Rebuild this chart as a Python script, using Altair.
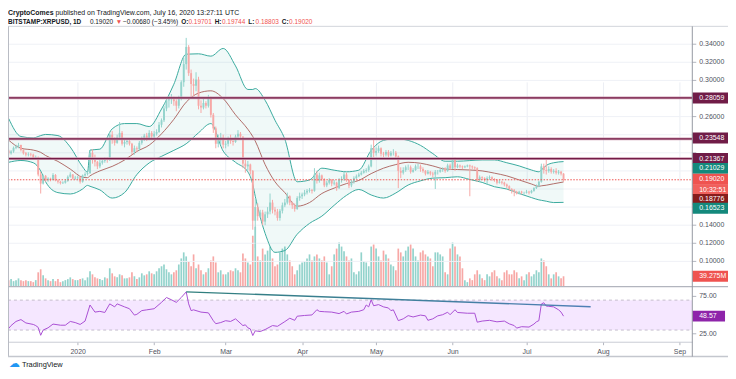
import altair as alt
import numpy as np
import pandas as pd

FONT = "Liberation Sans"
DARK = "#131722"
UP, DOWN = "#26a69a", "#ef5350"
W, H = 690, 318
MAIN_H = 262
RSI_TOP, RSI_BOT = 263, 318

# ---------------- daily candles, BITSTAMP:XRPUSD, 2019-12-04 .. 2020-07-16 ----------------
first_open = 0.2225
close_dec = [0.2195,0.2215,0.2255,0.2270,0.2285, 0.2230,0.2195,0.2180,0.2185,0.2180, 0.2140,0.2150,0.1960,0.1860,0.1945,
             0.1895,0.1915,0.1900,0.1955,0.1895, 0.1880,0.1865,0.1870,0.1890,0.1935, 0.1960,0.1915,0.1925]
high_dec = [0.2240,0.2230,0.2270,0.2290,0.2310, 0.2290,0.2240,0.2210,0.2205,0.2200, 0.2190,0.2170,0.2160,0.1990,0.1960,
            0.1955,0.1930,0.1925,0.1975,0.1965, 0.1905,0.1890,0.1885,0.1905,0.1950, 0.1985,0.1965,0.1945]
low_dec = [0.2170,0.2180,0.2200,0.2240,0.2250, 0.2215,0.2180,0.2160,0.2160,0.2160, 0.2130,0.2125,0.1940,0.1750,0.1850,
           0.1880,0.1880,0.1885,0.1895,0.1885, 0.1860,0.1850,0.1855,0.1860,0.1880, 0.1925,0.1905,0.1900]

close_jan = [0.1930,0.1880,0.1950,0.1965,0.1975, 0.2200,0.2130,0.2100,0.2050,0.2090, 0.2110,0.2130,0.2120,0.2400,0.2350,
             0.2310,0.2370,0.2420,0.2300,0.2320, 0.2330,0.2300,0.2210,0.2250,0.2240, 0.2310,0.2360,0.2390,0.2360,0.2420, 0.2380]
high_jan = [0.1945,0.1940,0.1960,0.1985,0.1990, 0.2230,0.2240,0.2180,0.2110,0.2120, 0.2140,0.2150,0.2150,0.2430,0.2440,
            0.2370,0.2400,0.2540,0.2440,0.2350, 0.2350,0.2340,0.2310,0.2280,0.2270, 0.2330,0.2380,0.2410,0.2420,0.2450, 0.2440]
low_jan = [0.1905,0.1860,0.1870,0.1935,0.1950, 0.1970,0.2080,0.2050,0.2020,0.2030, 0.2070,0.2090,0.2090,0.2110,0.2300,
           0.2280,0.2300,0.2350,0.2280,0.2260, 0.2290,0.2280,0.2180,0.2180,0.2210, 0.2220,0.2290,0.2330,0.2330,0.2340, 0.2360]

close_feb = [0.2410,0.2430,0.2510,0.2560,0.2690, 0.2780,0.2790,0.2790,0.2770,0.2720, 0.2800,0.2980,0.3180,0.3370,0.3080,
             0.2960,0.2940,0.3010,0.2720,0.2700, 0.2750,0.2720,0.2800,0.2620,0.2470, 0.2300,0.2340,0.2370,0.2290]
high_feb = [0.2440,0.2460,0.2540,0.2580,0.2720, 0.2810,0.2830,0.2850,0.2820,0.2790, 0.2830,0.3000,0.3250,0.3470,0.3390,
            0.3120,0.3020,0.3090,0.3040,0.2780, 0.2800,0.2770,0.2840,0.2820,0.2640, 0.2490,0.2400,0.2420,0.2400]
low_feb = [0.2360,0.2390,0.2420,0.2480,0.2540, 0.2660,0.2700,0.2740,0.2720,0.2660, 0.2690,0.2780,0.2930,0.3120,0.3050,
           0.2800,0.2820,0.2880,0.2680,0.2640, 0.2680,0.2690,0.2700,0.2590,0.2420, 0.2250,0.2260,0.2290,0.2250]

close_mar = [0.2300,0.2360,0.2330,0.2320,0.2380, 0.2410,0.2380,0.2080,0.2050,0.2070, 0.2000,0.1450,0.1600,0.1500,0.1540,
             0.1440,0.1520,0.1550,0.1650,0.1570, 0.1550,0.1480,0.1560,0.1620,0.1650, 0.1720,0.1650,0.1620,0.1580,0.1700, 0.1720]
high_mar = [0.2330,0.2380,0.2400,0.2360,0.2400, 0.2450,0.2430,0.2380,0.2120,0.2110, 0.2080,0.2010,0.1700,0.1640,0.1570,
            0.1570,0.1550,0.1600,0.1750,0.1680, 0.1600,0.1580,0.1580,0.1650,0.1690, 0.1760,0.1730,0.1660,0.1640,0.1720, 0.1760]
low_mar = [0.2250,0.2270,0.2300,0.2280,0.2310, 0.2360,0.2350,0.2030,0.1980,0.2010, 0.1960,0.1350,0.1150,0.1450,0.1480,
           0.1400,0.1400,0.1480,0.1520,0.1530, 0.1510,0.1450,0.1450,0.1530,0.1600, 0.1630,0.1620,0.1580,0.1550,0.1570, 0.1670]

close_apr = [0.1740,0.1760,0.1780,0.1790,0.1780, 0.1960,0.1890,0.1950,0.1910,0.1840, 0.1870,0.1900,0.1860,0.1870,0.1810,
             0.1900,0.1910,0.1960,0.1900,0.1840, 0.1880,0.1920,0.1940,0.1960,0.1980, 0.2000,0.2010,0.2050,0.2250,0.2200]
high_apr = [0.1760,0.1790,0.1800,0.1810,0.1800, 0.2030,0.2000,0.1980,0.1960,0.1920, 0.1890,0.1920,0.1910,0.1900,0.1880,
            0.1920,0.1940,0.1990,0.1980,0.1910, 0.1900,0.1940,0.1960,0.1980,0.2000, 0.2020,0.2030,0.2070,0.2290,0.2355]
low_apr = [0.1690,0.1720,0.1740,0.1760,0.1750, 0.1770,0.1860,0.1870,0.1890,0.1820, 0.1820,0.1850,0.1830,0.1840,0.1780,
           0.1800,0.1870,0.1890,0.1880,0.1810, 0.1820,0.1860,0.1910,0.1930,0.1950, 0.1970,0.1980,0.1990,0.2040,0.2150]

close_may = [0.2220,0.2250,0.2190,0.2180,0.2210, 0.2170,0.2200,0.2200,0.2160,0.2000, 0.1980,0.2010,0.2040,0.2040,0.1990,
             0.2010,0.2050,0.2050,0.2020,0.2000, 0.1970,0.1990,0.1970,0.1960,0.1990, 0.1990,0.2010,0.2020,0.2000,0.2060, 0.2030]
high_may = [0.2260,0.2280,0.2260,0.2210,0.2230, 0.2230,0.2220,0.2240,0.2220,0.2170, 0.2040,0.2040,0.2060,0.2070,0.2060,
            0.2030,0.2070,0.2080,0.2070,0.2040, 0.2010,0.2010,0.2000,0.1990,0.2010, 0.2010,0.2030,0.2040,0.2040,0.2080, 0.2080]
low_may = [0.2170,0.2200,0.2160,0.2150,0.2160, 0.2150,0.2160,0.2170,0.2140,0.1810, 0.1920,0.1960,0.1990,0.2010,0.1970,
           0.1980,0.2000,0.2020,0.1990,0.1980, 0.1950,0.1960,0.1950,0.1930,0.1800, 0.1960,0.1980,0.1990,0.1980,0.1990, 0.2010]

close_jun = [0.2120,0.2040,0.2060,0.2050,0.2040, 0.2050,0.2060,0.2050,0.2040,0.2030, 0.1900,0.1930,0.1920,0.1900,0.1920,
             0.1930,0.1910,0.1900,0.1870,0.1880, 0.1870,0.1850,0.1830,0.1800,0.1790, 0.1770,0.1750,0.1770,0.1760,0.1760]
high_jun = [0.2140,0.2150,0.2080,0.2070,0.2060, 0.2060,0.2070,0.2070,0.2060,0.2050, 0.2040,0.1950,0.1940,0.1930,0.1940,
            0.1950,0.1940,0.1920,0.1910,0.1900, 0.1890,0.1880,0.1860,0.1840,0.1810, 0.1800,0.1780,0.1780,0.1780,0.1770]
low_jun = [0.2020,0.2000,0.2030,0.2030,0.2020, 0.2030,0.2040,0.1720,0.2020,0.2010, 0.1880,0.1880,0.1900,0.1880,0.1850,
           0.1900,0.1890,0.1880,0.1850,0.1860, 0.1850,0.1830,0.1810,0.1780,0.1750, 0.1720,0.1740,0.1740,0.1740,0.1740]

close_jul = [0.1770,0.1760,0.1780,0.1810,0.1830, 0.1880,0.2050,0.2010,0.2000,0.2020, 0.1990,0.2000,0.1980,0.1990,0.19701, 0.19020]
high_jul = [0.1790,0.1780,0.1790,0.1820,0.1850, 0.1890,0.2080,0.2080,0.2135,0.2050, 0.2040,0.2020,0.2030,0.2010,0.2000, 0.19744]
low_jul = [0.1750,0.1740,0.1750,0.1770,0.1800, 0.1820,0.1870,0.1970,0.1960,0.1980, 0.1970,0.1970,0.1960,0.1960,0.1950, 0.18803]

# volume, millions of XRP
vol_dec = [24,28,20,24,31,24,20,24,20,20,16,24,55,67,43,31,24,20,28,20,28,16,20,24,28,35,28,24]
vol_jan = [24,28,31,24,35,59,47,35,31,28,24,35,31,71,51,39,35,47,43,31,31,35,55,39,28,35,51,43,47,59,51]
vol_feb = [47,59,71,79,86,67,55,47,55,63,86,110,134,118,98,79,126,71,86,63,47,55,71,102,118,94,55,63,47]
vol_mar = [47,55,63,59,71,63,55,130,110,94,86,200,236,118,102,149,126,141,157,110,79,86,134,149,157,126,102,79,47,63,86]
vol_apr = [94,98,110,126,102,118,126,110,102,118,94,47,79,126,149,173,157,138,118,102,110,55,47,59,134,98,94,79,157,165]
vol_may = [149,118,102,141,126,110,86,79,63,149,134,118,141,157,165,149,118,102,134,141,126,118,110,79,134,134,126,118,55,47,149]
vol_jun = [173,157,126,118,71,24,16,31,24,47,63,47,31,24,47,39,55,63,39,31,24,55,63,47,47,63,55,31,39,24]
vol_jul = [47,55,39,47,63,55,110,102,79,47,31,47,55,39,31,39.275]

closes = close_dec + close_jan + close_feb + close_mar + close_apr + close_may + close_jun + close_jul
highs = high_dec + high_jan + high_feb + high_mar + high_apr + high_may + high_jun + high_jul
lows = low_dec + low_jan + low_feb + low_mar + low_apr + low_may + low_jun + low_jul
vols = vol_dec + vol_jan + vol_feb + vol_mar + vol_apr + vol_may + vol_jun + vol_jul

dates = pd.date_range("2019-12-04", periods=len(closes), freq="D")
candles = pd.DataFrame({
    "date": dates.strftime("%Y-%m-%d"),
    "open": [first_open] + closes[:-1],
    "high": highs, "low": lows, "close": closes, "vol": vols,
})
candles["high"] = candles[["high", "open", "close"]].max(axis=1)
candles["low"] = candles[["low", "open", "close"]].min(axis=1)
candles["dir"] = np.where(candles["close"] >= candles["open"], "up", "down")

# ---------------- Bollinger bands, day offsets from 2020-01-01 ----------------
bb_off = [-28,-23,-18,-15,-13,-8,-3,2,4,5,9,14,19,24,29,34,39,44,49,54,59,64,69,71,72,76,80,84,89,94,99,
          104,109,114,119,124,129,134,139,144,149,154,159,164,169,174,179,184,187,188,190,193,197]
bb_upper = [0.2580,0.2380,0.2365,0.2390,0.2403,0.2390,0.2264,0.2045,0.1985,0.2230,0.2240,0.2465,0.2523,0.2523,0.2490,
            0.2684,0.2958,0.3290,0.3294,0.3268,0.3353,0.3160,0.2900,0.2900,0.2910,0.2780,0.2560,0.2350,0.1880,0.1900,
            0.2030,0.2008,0.1990,0.2008,0.2227,0.2337,0.2355,0.2337,0.2282,0.2191,0.2107,0.2107,0.2114,0.2121,0.2121,
            0.2090,0.2055,0.2010,0.1990,0.2010,0.2060,0.2090,0.21029]
bb_basis = [0.2340,0.2250,0.2230,0.2205,0.2170,0.2105,0.2020,0.1930,0.1925,0.1945,0.2000,0.2050,0.2120,0.2215,0.2285,
            0.2410,0.2570,0.2760,0.2860,0.2885,0.2800,0.2620,0.2460,0.2380,0.2330,0.2070,0.1880,0.1760,0.1610,0.1650,
            0.1750,0.1810,0.1860,0.1895,0.1970,0.2030,0.2070,0.2095,0.2085,0.2055,0.2020,0.2015,0.2010,0.2000,0.1975,
            0.1945,0.1900,0.1855,0.1830,0.1835,0.1842,0.1858,0.18776]
bb_lower = [0.2095,0.2115,0.2090,0.2000,0.1880,0.1760,0.1745,0.1800,0.1840,0.1830,0.1790,0.1700,0.1760,0.1960,0.2088,
            0.2161,0.2227,0.2300,0.2421,0.2523,0.2219,0.2095,0.1990,0.1850,0.1720,0.1310,0.1100,0.1120,0.1300,0.1420,
            0.1500,0.1620,0.1730,0.1795,0.1734,0.1700,0.1756,0.1844,0.1890,0.1920,0.1925,0.1935,0.1905,0.1873,0.1825,
            0.1800,0.1750,0.1705,0.1680,0.1675,0.1665,0.1650,0.16523]

# ---------------- RSI ----------------
rsi_off = [-28,-27,-25,-23,-21,-18,-17,-16,-15,-14,-12,-10,-7,-5,-3,-1,1,3,5,7,9,11,13,15,16,19,21,23,24,26,28,31,
           34,36,38,40,42,44,45,46,47,50,53,55,56,58,60,62,64,67,68,69,70,71,72,74,76,79,81,84,86,88,89,92,95,97,98,
           100,103,106,108,109,111,114,116,117,118,119,120,122,124,126,127,128,130,132,134,136,139,141,142,144,146,
           148,150,151,153,154,158,161,162,164,167,170,173,175,177,178,180,183,185,186,187,188,189,190,191,193,195,196,197]
rsi_val = [32,36,41.5,44,39.5,37.5,36,33.5,23,30,33,38,36.5,36.5,41.5,40,37.5,42,63.5,54,55,53.5,65,61,65,61,58.5,50,51,56,57,58.5,
           67,73.5,70.5,67,73.5,81,65,56,57,54,53,42.5,38.5,40,42.5,41.5,45,36,37,33,31.5,22.7,29,28,30.7,36,35,41.3,45.8,43,48.5,49.5,50.2,57.2,55,
           54.5,54,52,55,51.5,54,55,57.2,63.5,61,70.5,62.5,64,61,59.5,56,57,42.6,45,49.3,47.5,50,49,43,45,49,
           50.5,53.8,50.5,57.2,53.5,52.5,52.5,40.5,42,43,41,42,38.3,36,32.6,34.5,34,38,41,42.6,64.8,66.5,62,61.7,61,57,54,48.57]
trend_off = [44, 208]
trend_val = [81.1, 61.2]

# horizontal levels drawn on the chart
levels = [0.28059, 0.23548, 0.21367]
last_price = 0.19020
# price scale grid lines; labels only where they are not covered by the coloured price tags
price_ticks = [0.10, 0.12, 0.14, 0.16, 0.18, 0.20, 0.22, 0.24, 0.26, 0.28, 0.30, 0.32, 0.34]
price_tick_labels = [0.10, 0.12, 0.14, 0.26, 0.30, 0.32, 0.34]
rsi_ticks = [25, 75]


def offs_to_dates(offs):
    return (pd.Timestamp("2020-01-01") + pd.to_timedelta(offs, unit="D")).strftime("%Y-%m-%d")


bb = pd.DataFrame({"date": offs_to_dates(bb_off), "upper": bb_upper, "basis": bb_basis, "lower": bb_lower})
rsi = pd.DataFrame({"date": offs_to_dates(rsi_off), "rsi": rsi_val})
trend = pd.DataFrame({"date": offs_to_dates(trend_off), "rsi": trend_val})
one = pd.DataFrame({"k": [0]})

# ---------------- scales / axes ----------------
X_SCALE = alt.Scale(type="utc", nice=False, padding=0,
                    domain=[alt.DateTime(year=2019, month=12, date=3, hours=18, utc=True),
                            alt.DateTime(year=2020, month=9, date=6, hours=5, utc=True)])
X_AXIS = alt.Axis(values=[alt.DateTime(year=2020, month=m, date=1, utc=True) for m in range(1, 10)],
                  labelExpr="utcFormat(datum.value, '%m') == '01' ? utcFormat(datum.value, '%Y') : utcFormat(datum.value, '%b')",
                  grid=True, gridColor="#eceef4", domainColor="#c9ccd4", tickColor="#b2b5be", tickSize=3,
                  labelFontSize=7, labelColor="#50535e", labelFont=FONT, labelPadding=3, title=None)


def X(field="date"):
    return alt.X(f"{field}:T", scale=X_SCALE, axis=X_AXIS)


P_SCALE = alt.Scale(domain=[0.0726, 0.35973], range=[MAIN_H, 0], nice=False, zero=False)
V_SCALE = alt.Scale(domain=[0, 393], range=[MAIN_H, MAIN_H - 100], nice=False, zero=True)
R_SCALE = alt.Scale(domain=[14.4, 87.3], range=[RSI_BOT, RSI_TOP], nice=False, zero=False)


def P(field):
    return alt.Y(f"{field}:Q", scale=P_SCALE, axis=None)


dir_color = alt.Color("dir:N", scale=alt.Scale(domain=["up", "down"], range=[UP, DOWN]), legend=None)


def tag(df_row, scale, color, shift, x2=728):
    box = alt.Chart(df_row).mark_rect(color=color, yOffset=shift - 5.5, y2Offset=shift + 5.5).encode(
        x=alt.value(690), x2=alt.value(x2), y=alt.Y("v:Q", scale=scale, axis=None), y2="v:Q")
    txt = alt.Chart(df_row).mark_text(color="white", align="left", baseline="middle", fontSize=7, font=FONT,
                                      yOffset=shift).encode(
        x=alt.value(697), y=alt.Y("v:Q", scale=scale, axis=None), text="t:N")
    return [box, txt]


# ---------------- price axis (grid, ticks, labels) ----------------
pt = pd.DataFrame({"v": price_ticks})
ptl = pd.DataFrame({"v": price_tick_labels, "t": [f"{v:.5f}" for v in price_tick_labels]})
p_grid = alt.Chart(pt).mark_rule(color="#eff1f6", strokeWidth=1).encode(
    y=P("v"), x=alt.value(0), x2=alt.value(W))
p_tick = alt.Chart(pt).mark_rule(color="#b2b5be").encode(y=P("v"), x=alt.value(690), x2=alt.value(694))
p_lab = alt.Chart(ptl).mark_text(align="left", baseline="middle", fontSize=7, font=FONT, color="#50535e").encode(
    y=P("v"), x=alt.value(697), text="t:N")

# ---------------- volume ----------------
vol_bars = alt.Chart(candles).mark_bar(size=1.7).encode(
    x=X(), y=alt.Y("vol:Q", scale=V_SCALE, axis=None),
    color=alt.Color("dir:N", scale=alt.Scale(domain=["up", "down"], range=["#93d3cc", "#f7a8a6"]), legend=None))
vol_tag = tag(pd.DataFrame({"v": [vols[-1]], "t": ["39.275M"]}), V_SCALE, "#ef5350", 0)
vol_group = alt.layer(vol_bars, *vol_tag)

# ---------------- price pane ----------------
bb_fill = alt.Chart(bb).mark_area(color=UP, opacity=0.07, interpolate="monotone").encode(
    x=X(), y=P("upper"), y2="lower:Q")
bb_up = alt.Chart(bb).mark_line(color="#3aaa9e", strokeWidth=1, interpolate="monotone").encode(x=X(), y=P("upper"))
bb_lo = alt.Chart(bb).mark_line(color="#3aaa9e", strokeWidth=1, interpolate="monotone").encode(x=X(), y=P("lower"))
bb_mid = alt.Chart(bb).mark_line(color="#a5544f", strokeWidth=1, opacity=0.85, interpolate="monotone").encode(
    x=X(), y=P("basis"))
wicks = alt.Chart(candles).mark_rule(strokeWidth=1).encode(x=X(), y=P("low"), y2="high:Q", color=dir_color)
bodies = alt.Chart(candles).mark_bar(size=1.9).encode(x=X(), y=P("open"), y2="close:Q", color=dir_color)
lv = pd.DataFrame({"v": levels})
lev_glow = alt.Chart(lv).mark_rule(color="#cf9fb5", strokeWidth=2.8).encode(y=P("v"), x=alt.value(0), x2=alt.value(W))
lev_line = alt.Chart(lv).mark_rule(color="#741c47", strokeWidth=1.3).encode(y=P("v"), x=alt.value(0), x2=alt.value(W))
last_line = alt.Chart(pd.DataFrame({"v": [last_price]})).mark_rule(
    color="#ef5350", strokeWidth=1, strokeDash=[1.5, 1.5]).encode(y=P("v"), x=alt.value(0), x2=alt.value(W))

price_tags = []
tag_specs = [
    (0.28059, "0.28059", "#701c47", 0),
    (0.23548, "0.23548", "#701c47", -0.8),
    (0.21367, "0.21367", "#701c47", 0),
    (0.21029, "0.21029", "#14897c", 6.8),
    (0.19020, "0.19020", "#ef5350", -0.6),
    (0.19020, "10:32:51", "#f0605c", 9.9),
    (0.18776, "0.18776", "#861c1c", 17.6),
    (0.16523, "0.16523", "#14897c", 6.0),
]
for v, t, c, s in tag_specs:
    price_tags += tag(pd.DataFrame({"v": [v], "t": [t]}), P_SCALE, c, s)

price_group = alt.layer(p_grid, p_tick, p_lab, bb_fill, bb_up, bb_lo, bb_mid, wicks, bodies,
                        lev_glow, lev_line, last_line, *price_tags)

# ---------------- RSI pane ----------------
band = alt.Chart(pd.DataFrame({"lo": [30], "hi": [70]})).mark_rect(color="#9915ff", opacity=0.1).encode(
    x=alt.value(0), x2=alt.value(W), y=alt.Y("lo:Q", scale=R_SCALE, axis=None), y2="hi:Q")
band_lines = alt.Chart(pd.DataFrame({"v": [30, 70]})).mark_rule(color="#c4bccc", strokeDash=[3, 3], strokeWidth=1).encode(
    x=alt.value(0), x2=alt.value(W), y=alt.Y("v:Q", scale=R_SCALE, axis=None))
rsi_line = alt.Chart(rsi).mark_line(color="#a94fd3", strokeWidth=1).encode(
    x=X(), y=alt.Y("rsi:Q", scale=R_SCALE, axis=None))
trend_line = alt.Chart(trend).mark_line(
    strokeWidth=1.4,
    color=alt.Gradient(gradient="linear", stops=[alt.GradientStop(color="#2f7f7c", offset=0),
                                                 alt.GradientStop(color="#4f7fb6", offset=1)],
                       x1=0, x2=1, y1=0, y2=0)).encode(x=X(), y=alt.Y("rsi:Q", scale=R_SCALE, axis=None))
rsi_ticks_df = pd.DataFrame({"v": rsi_ticks, "t": [f"{v:.2f}" for v in rsi_ticks]})
rsi_tick_marks = alt.Chart(rsi_ticks_df).mark_rule(color="#b2b5be").encode(
    x=alt.value(690), x2=alt.value(694), y=alt.Y("v:Q", scale=R_SCALE, axis=None))
rsi_tick_text = alt.Chart(rsi_ticks_df).mark_text(align="left", baseline="middle", fontSize=7, font=FONT,
                                                  color="#50535e").encode(
    x=alt.value(697), y=alt.Y("v:Q", scale=R_SCALE, axis=None), text="t:N")
rsi_tag = tag(pd.DataFrame({"v": [rsi_val[-1]], "t": ["48.57"]}), R_SCALE, "#8e24aa", 0, x2=723)
rsi_group = alt.layer(band, band_lines, rsi_line, trend_line, rsi_tick_marks, rsi_tick_text, *rsi_tag)


# ---------------- frame, header, logo ----------------
def hrule(y, x1, x2, color, w=1):
    return alt.Chart(one).mark_rule(color=color, strokeWidth=w).encode(
        x=alt.value(x1), x2=alt.value(x2), y=alt.value(y))


def vrule(x, y1, y2, color, w=1):
    return alt.Chart(one).mark_rule(color=color, strokeWidth=w).encode(
        x=alt.value(x), y=alt.value(y1), y2=alt.value(y2))


def tw(s, size, bold=False):
    w = 0.0
    for ch in s:
        if ch.isdigit():
            w += 0.556
        elif ch == ":":
            w += 0.333 if bold else 0.278
        elif ch in ".,; ":
            w += 0.278
        elif ch in "()":
            w += 0.333
        elif ch == "%":
            w += 0.889
        elif ch == "\u2212":
            w += 0.584
        elif ch == "\u25bc":
            w += 0.75
        elif ch.isupper():
            w += 0.72 if bold else 0.68
        else:
            w += 0.56 if bold else 0.5
    return w * size


def text_row(segments, y, size):
    out = []
    x = 0.0
    for text, bold, color, gap in segments:
        x += gap
        out.append(alt.Chart(one).mark_text(text=text, align="left", baseline="middle", fontSize=size, font=FONT,
                                            fontWeight="bold" if bold else "normal", color=color).encode(
            x=alt.value(x), y=alt.value(y)))
        x += tw(text, size, bold)
    return out


line1 = text_row([("CryptoComes", True, DARK, 0),
                  ("published on TradingView.com, July 16, 2020 13:27:11 UTC", False, DARK, 2.5)], -13, 7)
line2 = text_row([("BITSTAMP:XRPUSD, 1D", True, DARK, 0), ("0.19020", False, DARK, 3),
                  ("\u25bc", False, "#ef5350", 2.5), ("\u22120.00680 (\u22123.45%)", False, DARK, 2.5),
                  ("O:", True, DARK, 3), ("0.19701", False, "#ef5350", 0.5),
                  ("H:", True, DARK, 3), ("0.19744", False, "#ef5350", 0.5),
                  ("L:", True, DARK, 3), ("0.18803", False, "#ef5350", 0.5),
                  ("C:", True, DARK, 3), ("0.19020", False, "#ef5350", 0.5)], -4.5, 6.5)
logo_icon = alt.Chart(one).mark_text(text="\u2601", align="left", baseline="middle", fontSize=11,
                                     color="#2196f3", font="DejaVu Sans").encode(x=alt.value(1), y=alt.value(340.5))
logo_text = alt.Chart(one).mark_text(text="TradingView", align="left", baseline="middle", fontSize=7.5,
                                     color=DARK, font=FONT).encode(x=alt.value(14), y=alt.value(341))

frame = [
    hrule(0, 0, 727, "#d1d4dc"),
    vrule(0.5, 0, 333, "#b8bbc3"),
    vrule(727, 262.5, 333, "#c3c6cd"),
    hrule(333, 0, 727, "#c4c7ce", 1.5),
    hrule(262.5, 0, 727, "#b2b5be", 1.2),
    vrule(690, 0, 333, "#9598a1"),
]
static_group = alt.layer(*frame, *line1, *line2, logo_icon, logo_text)

chart = alt.layer(vol_group, price_group, rsi_group, static_group).resolve_scale(y="independent").properties(
    width=W, height=H, autosize="none",
    padding={"left": 0, "top": 17, "right": 36, "bottom": 27},
).configure_view(stroke=None)

chart.save("out.html", embed_options={"renderer": "svg", "actions": False})
